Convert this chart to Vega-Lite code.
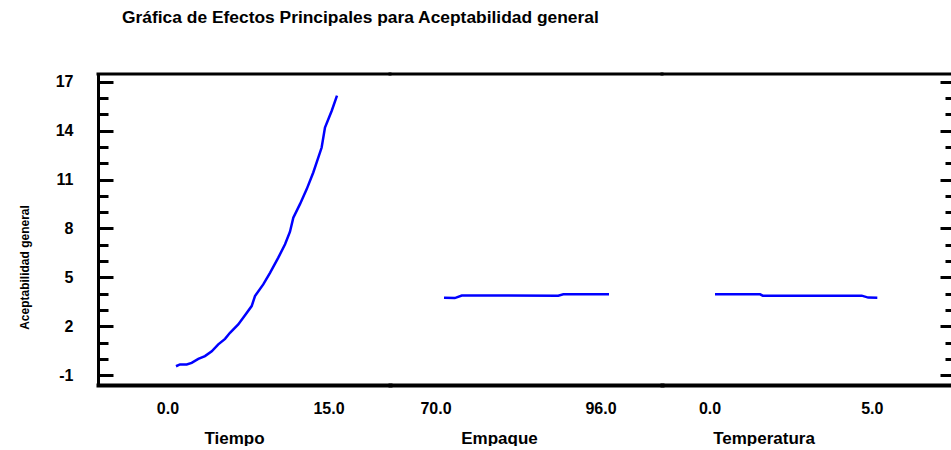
{
  "$schema": "https://vega.github.io/schema/vega-lite/v6.json",
  "background": "white",
  "padding": {"left": 18, "top": 9, "right": 0, "bottom": 0},
  "title": {"text": "Gráfica de Efectos Principales para Aceptabilidad general", "anchor": "start", "frame": "group", "dx": 24, "fontSize": 17.4, "fontWeight": "bold", "font": "Liberation Sans", "color": "black", "offset": 45},
  "config": {"view": {"stroke": null}},
  "spacing": 0,
  "bounds": "flush",
  "resolve": {"scale": {"x": "independent"}},
  "data": {"values": [
    {"factor": "Tiempo", "nivel": 0.0, "respuesta": -0.45},
    {"factor": "Tiempo", "nivel": 0.37, "respuesta": -0.34},
    {"factor": "Tiempo", "nivel": 1.0, "respuesta": -0.34},
    {"factor": "Tiempo", "nivel": 1.46, "respuesta": -0.24},
    {"factor": "Tiempo", "nivel": 2.08, "respuesta": 0.0},
    {"factor": "Tiempo", "nivel": 2.70, "respuesta": 0.17},
    {"factor": "Tiempo", "nivel": 3.33, "respuesta": 0.47},
    {"factor": "Tiempo", "nivel": 3.94, "respuesta": 0.89},
    {"factor": "Tiempo", "nivel": 4.57, "respuesta": 1.23},
    {"factor": "Tiempo", "nivel": 5.03, "respuesta": 1.60},
    {"factor": "Tiempo", "nivel": 5.80, "respuesta": 2.11},
    {"factor": "Tiempo", "nivel": 6.43, "respuesta": 2.67},
    {"factor": "Tiempo", "nivel": 7.05, "respuesta": 3.24},
    {"factor": "Tiempo", "nivel": 7.36, "respuesta": 3.85},
    {"factor": "Tiempo", "nivel": 8.13, "respuesta": 4.57},
    {"factor": "Tiempo", "nivel": 8.76, "respuesta": 5.28},
    {"factor": "Tiempo", "nivel": 9.53, "respuesta": 6.21},
    {"factor": "Tiempo", "nivel": 10.16, "respuesta": 7.03},
    {"factor": "Tiempo", "nivel": 10.62, "respuesta": 7.80},
    {"factor": "Tiempo", "nivel": 10.93, "respuesta": 8.66},
    {"factor": "Tiempo", "nivel": 11.55, "respuesta": 9.49},
    {"factor": "Tiempo", "nivel": 12.18, "respuesta": 10.41},
    {"factor": "Tiempo", "nivel": 12.79, "respuesta": 11.43},
    {"factor": "Tiempo", "nivel": 13.57, "respuesta": 12.96},
    {"factor": "Tiempo", "nivel": 13.88, "respuesta": 14.19},
    {"factor": "Tiempo", "nivel": 14.51, "respuesta": 15.22},
    {"factor": "Tiempo", "nivel": 15.0, "respuesta": 16.14},
    {"factor": "Empaque", "nivel": 70.0, "respuesta": 3.75},
    {"factor": "Empaque", "nivel": 71.7, "respuesta": 3.73},
    {"factor": "Empaque", "nivel": 72.8, "respuesta": 3.89},
    {"factor": "Empaque", "nivel": 88.0, "respuesta": 3.88},
    {"factor": "Empaque", "nivel": 88.8, "respuesta": 3.96},
    {"factor": "Empaque", "nivel": 96.0, "respuesta": 3.96},
    {"factor": "Temperatura", "nivel": 0.0, "respuesta": 3.96},
    {"factor": "Temperatura", "nivel": 1.39, "respuesta": 3.96},
    {"factor": "Temperatura", "nivel": 1.47, "respuesta": 3.88},
    {"factor": "Temperatura", "nivel": 4.52, "respuesta": 3.88},
    {"factor": "Temperatura", "nivel": 4.72, "respuesta": 3.76},
    {"factor": "Temperatura", "nivel": 5.0, "respuesta": 3.75}
  ]},
  "hconcat": [
    {
      "width": 292, "height": 311,
      "layer": [
        {
          "transform": [{"filter": "datum.factor == 'Tiempo'"}],
          "mark": {"type": "line", "color": "#0000ff", "strokeWidth": 2.5},
          "encoding": {
            "x": {"field": "nivel", "type": "quantitative",
              "scale": {"domain": [-7.267, 19.938], "nice": false, "zero": false},
              "axis": {"values": [0, 15], "format": ".1f", "title": "Tiempo", "labelOffset": -8.5, "ticks": false, "grid": false, "domainWidth": 4, "domainColor": "black", "domainCap": "square", "labelFontSize": 16, "labelFontWeight": "bold", "labelFont": "Liberation Sans", "labelColor": "black", "labelPadding": 15, "labelFlush": false, "titlePadding": 14, "titleX": 136, "titleFontSize": 17, "titleFontWeight": "bold", "titleFont": "Liberation Sans", "titleColor": "black"}},
            "y": {"field": "respuesta", "type": "quantitative",
              "scale": {"domain": [-1.6, 17.47], "nice": false, "zero": false},
              "axis": {"title": "Aceptabilidad general", "tickCount": 40, "values": [-1,0,1,2,3,4,5,6,7,8,9,10,11,12,13,14,15,16,17], "labelExpr": "(datum.value + 1) % 3 == 0 ? toString(datum.value) : ''", "labelOverlap": false, "tickSize": {"condition": {"test": "(datum.value + 1) % 3 == 0", "value": -15}, "value": -10}, "tickWidth": 3, "tickColor": "black", "domainWidth": 3, "domainColor": "black", "domainCap": "square", "grid": false, "labelFontSize": 16, "labelFontWeight": "bold", "labelFont": "Liberation Sans", "labelColor": "black", "labelPadding": 40, "titleFont": "Liberation Sans", "titleFontSize": 12, "titleFontWeight": "bold", "titleColor": "black", "titleX": -74, "titleY": 193, "titleAlign": "center", "titleBaseline": "middle", "titleAngle": -90}}
          }
        },
        {
          "data": {"values": [{}]},
          "mark": {"type": "rule", "strokeWidth": 3, "color": "black", "strokeCap": "square"},
          "encoding": {"y": {"datum": 17.47}}
        }
      ]
    },
    {
      "width": 272, "height": 311,
      "layer": [
        {
          "transform": [{"filter": "datum.factor == 'Empaque'"}],
          "mark": {"type": "line", "color": "#0000ff", "strokeWidth": 2.5},
          "encoding": {
            "x": {"field": "nivel", "type": "quantitative",
              "scale": {"domain": [61.49, 104.35], "nice": false, "zero": false},
              "axis": {"values": [70, 96], "format": ".1f", "title": "Empaque", "labelOffset": -8.5, "ticks": false, "grid": false, "domainWidth": 4, "domainColor": "black", "domainCap": "square", "labelFontSize": 16, "labelFontWeight": "bold", "labelFont": "Liberation Sans", "labelColor": "black", "labelPadding": 15, "labelFlush": false, "titlePadding": 14, "titleX": 109, "titleFontSize": 17, "titleFontWeight": "bold", "titleFont": "Liberation Sans", "titleColor": "black"}},
            "y": {"field": "respuesta", "type": "quantitative",
              "scale": {"domain": [-1.6, 17.47], "nice": false, "zero": false},
              "axis": null}
          }
        },
        {
          "data": {"values": [{}]},
          "mark": {"type": "rule", "strokeWidth": 3, "color": "black", "strokeCap": "square"},
          "encoding": {"y": {"datum": 17.47, "scale": {"domain": [-1.6, 17.47], "nice": false, "zero": false}, "axis": null}}
        }
      ]
    },
    {
      "width": 289, "height": 311,
      "layer": [
        {
          "transform": [{"filter": "datum.factor == 'Temperatura'"}],
          "mark": {"type": "line", "color": "#0000ff", "strokeWidth": 2.5},
          "encoding": {
            "x": {"field": "nivel", "type": "quantitative",
              "scale": {"domain": [-1.633, 7.27], "nice": false, "zero": false},
              "axis": {"values": [0, 5], "format": ".1f", "title": "Temperatura", "labelOffset": -5.5, "ticks": false, "grid": false, "domainWidth": 4, "domainColor": "black", "domainCap": "square", "labelFontSize": 16, "labelFontWeight": "bold", "labelFont": "Liberation Sans", "labelColor": "black", "labelPadding": 15, "labelFlush": false, "titlePadding": 14, "titleX": 101.5, "titleFontSize": 17, "titleFontWeight": "bold", "titleFont": "Liberation Sans", "titleColor": "black"}},
            "y": {"field": "respuesta", "type": "quantitative",
              "scale": {"domain": [-1.6, 17.47], "nice": false, "zero": false},
              "axis": {"orient": "right", "title": null, "labels": false, "domain": false, "grid": false, "tickCount": 40, "values": [-1,0,1,2,3,4,5,6,7,8,9,10,11,12,13,14,15,16,17], "tickSize": {"condition": {"test": "(datum.value + 1) % 3 == 0", "value": -11}, "value": -6}, "tickWidth": 3, "tickColor": "black"}}
          }
        },
        {
          "data": {"values": [{}]},
          "mark": {"type": "rule", "strokeWidth": 3, "color": "black", "strokeCap": "square"},
          "encoding": {"y": {"datum": 17.47}}
        }
      ]
    }
  ]
}
